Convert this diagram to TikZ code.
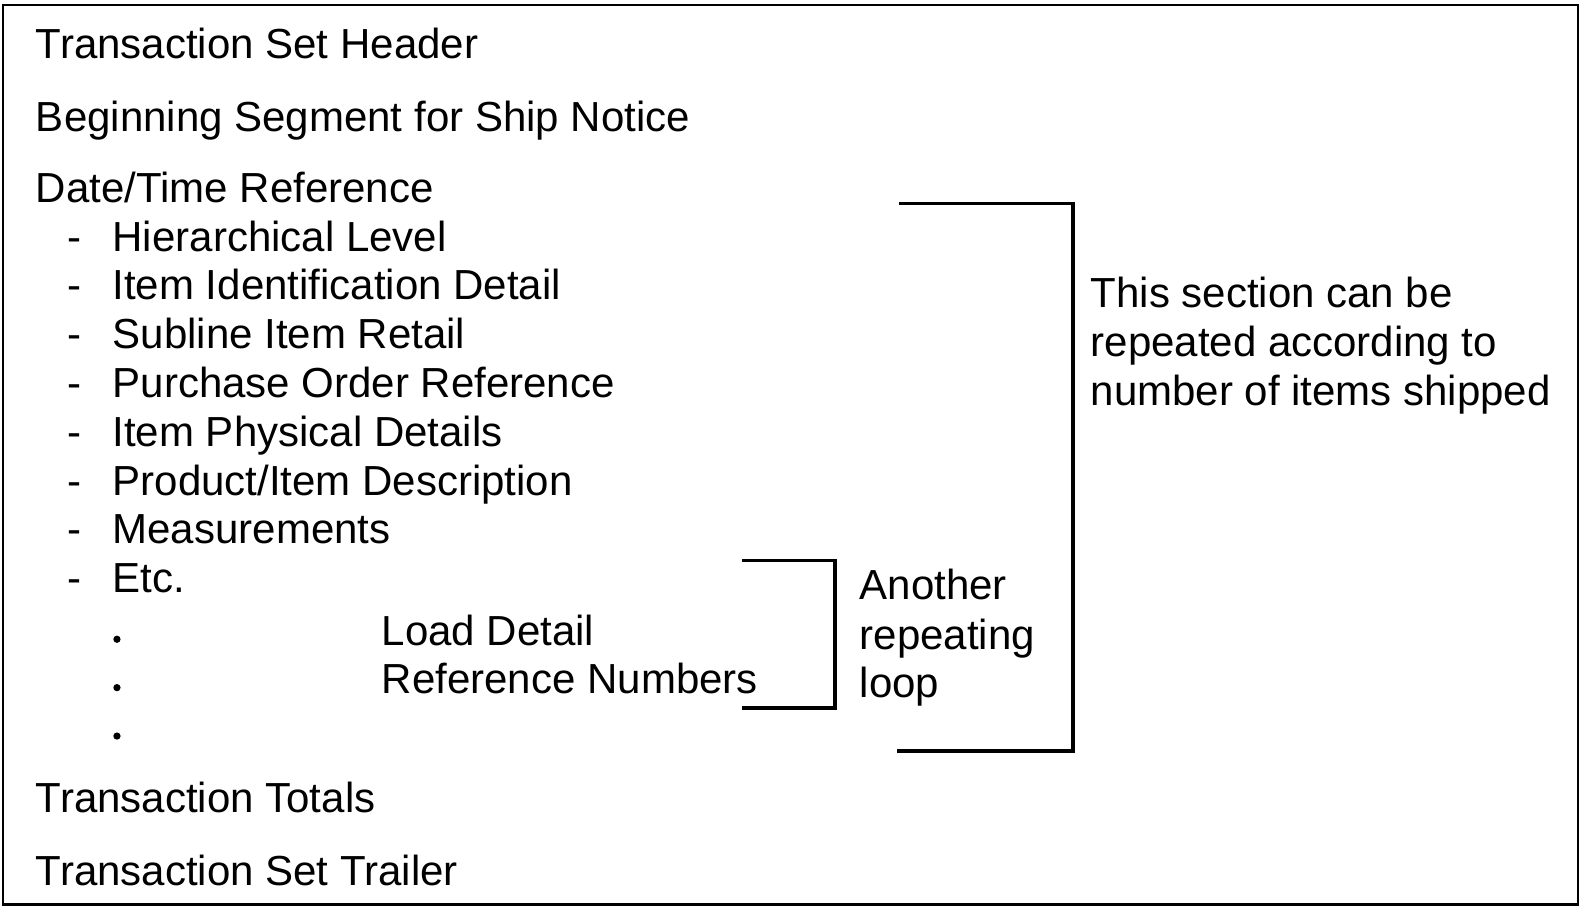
\documentclass[tikz,border=0pt]{standalone}
\usepackage{fontspec}
\setmainfont{Liberation Sans}
\usepackage{tikz}
\usetikzlibrary{positioning}

\begin{document}
\begin{tikzpicture}[x=0.01cm,y=-0.01cm,
    every node/.style={anchor=base west,inner sep=0pt,font=\fontsize{11.85}{14}\selectfont},
    frame/.style={line width=0.8pt},
    bracket/.style={line width=1pt}]
  \useasboundingbox (0,0) rectangle (1568,900);
  \draw[frame] (3,5) rectangle (1565,897);
  % top level segments
  \node (header) at (35,58) {Transaction Set Header};
  \node (bsn) at (35,130) {Beginning Segment for Ship Notice};
  \node (dtm) at (35,201) {Date/Time Reference};
  % repeating section
  \foreach \txt [count=\k] in {Hierarchical Level,Item Identification Detail,Subline Item Retail,Purchase Order Reference,Item Physical Details,Product/Item Description,Measurements,Etc.}{
    \node (dash\k) at (66,{249+48.4*(\k-1)}) {-};
    \node (item\k) at (111,{249+48.4*(\k-1)}) {\txt};
  }
  \foreach \k in {1,2,3}{\fill (116,{586+48*\k}) circle (3.6);}
  \node (load) at (378,640) {Load Detail};
  \node (refnum) at (378,688) {Reference Numbers};
  \node (totals) at (35,806) {Transaction Totals};
  \node (trailer) at (35,878) {Transaction Set Trailer};
  % brackets
  \draw[bracket] (736,556) -| (828,702) -- (736,702);
  \draw[bracket] (892,202) -| (1064,745) -- (890,745);
  \node (another) at (852,595) {Another};
  \node (repeating) at (852,644) {repeating};
  \node (loop) at (852,692) {loop};
  \node (section1) at (1081,305) {This section can be};
  \node (section2) at (1081,354) {repeated according to};
  \node (section3) at (1081,402) {number of items shipped};
\end{tikzpicture}
\end{document}
